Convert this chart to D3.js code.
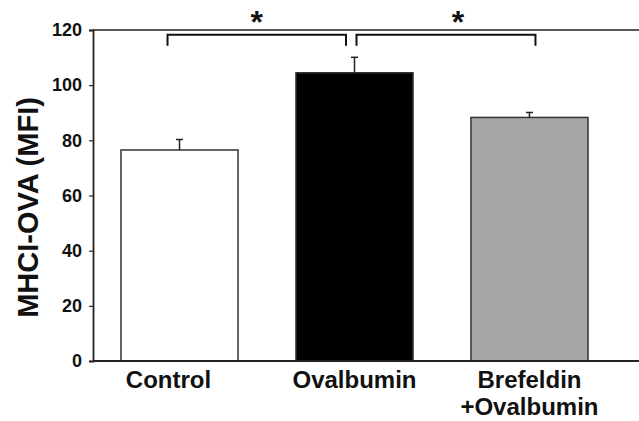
<!DOCTYPE html>
<html>
<head>
<meta charset="utf-8">
<script src="https://cdn.jsdelivr.net/npm/d3@7"></script>
<style>
  body { margin: 0; background: #fff; }
  svg { display: block; font-family: "Liberation Sans", Arial, sans-serif; font-weight: bold; }
</style>
</head>
<body>
<svg id="chart" width="639" height="421"></svg>
<script>
// data
const categories = ["Control", "Ovalbumin", "Brefeldin\n+Ovalbumin"];
const means = [76.5, 104.5, 88.3];
const errors = [3.8, 5.6, 1.8];
const fills = ["#ffffff", "#000000", "#a6a6a6"];
const yTicks = [0, 20, 40, 60, 80, 100, 120];
// pairs compared, drawn as brackets with a star
const comparisons = [[0, 1], [1, 2]];

const svg = d3.select("#chart");
const margin = { top: 30, bottom: 60, left: 93 };
const width = 639, height = 421;

const x = d3.scaleBand()
  .domain(d3.range(categories.length))
  .range([margin.left, 616])
  .paddingInner(0.331)
  .paddingOuter(0.16);
const cx = i => x(i) + x.bandwidth() / 2;

const y = d3.scaleLinear()
  .domain([0, 120])
  .range([height - margin.bottom, margin.top]);

// top frame line runs to the right edge
svg.append("line")
  .attr("x1", margin.left).attr("x2", width)
  .attr("y1", y(120)).attr("y2", y(120))
  .attr("stroke", "#222").attr("stroke-width", 1.5);

// bars
svg.append("g").selectAll("rect")
  .data(means)
  .join("rect")
  .attr("x", (d, i) => x(i))
  .attr("y", d => y(d))
  .attr("width", x.bandwidth())
  .attr("height", d => y(0) - y(d))
  .attr("fill", (d, i) => fills[i])
  .attr("stroke", "#333")
  .attr("stroke-width", 1.5);

// error bars (upper only)
const eb = svg.append("g").attr("stroke", "#222").attr("stroke-width", 1.5);
means.forEach((m, i) => {
  eb.append("line").attr("x1", cx(i)).attr("x2", cx(i)).attr("y1", y(m)).attr("y2", y(m + errors[i]));
  eb.append("line").attr("x1", cx(i) - 3.5).attr("x2", cx(i) + 3.5)
    .attr("y1", y(m + errors[i])).attr("y2", y(m + errors[i]));
});

// bottom baseline
svg.append("line")
  .attr("x1", margin.left).attr("x2", width)
  .attr("y1", y(0)).attr("y2", y(0))
  .attr("stroke", "#222").attr("stroke-width", 1.8);

// y axis
const yAxis = svg.append("g")
  .attr("transform", `translate(${margin.left},0)`)
  .call(d3.axisLeft(y).tickValues(yTicks).tickSize(4).tickPadding(7));
yAxis.select(".domain").attr("stroke", "#222").attr("stroke-width", 1.8);
yAxis.selectAll(".tick line").attr("stroke", "#222").attr("stroke-width", 1.2);
yAxis.selectAll(".tick text")
  .attr("font-size", 18).attr("font-weight", "bold")
  .attr("font-family", "Liberation Sans, Arial, sans-serif")
  .attr("fill", "#111");

// y title
svg.append("text")
  .attr("transform", `translate(38,${(margin.top + y(0)) / 2 + 12}) rotate(-90)`)
  .attr("text-anchor", "middle")
  .attr("font-size", 29)
  .attr("fill", "#111")
  .text("MHCI-OVA (MFI)");

// category labels
const xl = svg.append("g");
categories.forEach((c, i) => {
  const lx = cx(i) + (i === 0 ? -11 : 0);
  const t = xl.append("text")
    .attr("x", lx)
    .attr("y", y(0) + 27)
    .attr("text-anchor", "middle")
    .attr("font-size", 24)
    .attr("fill", "#111");
  c.split("\n").forEach((line, j) => {
    t.append("tspan").attr("x", lx).attr("dy", j === 0 ? 0 : 27).text(line);
  });
});

// significance brackets
const bracketY = 34.7, legY = 45.7;
const legOffsets = [[-12, -8.5], [2, 6]];
const starShift = [0, 12];
const br = svg.append("g").attr("fill", "none").attr("stroke", "#111").attr("stroke-width", 2);
comparisons.forEach(([a, b], k) => {
  const x1 = cx(a) + legOffsets[k][0];
  const x2 = cx(b) + legOffsets[k][1];
  br.append("path").attr("d", `M${x1},${legY}V${bracketY}H${x2}V${legY}`);
  svg.append("text")
    .attr("x", (x1 + x2) / 2 + starShift[k])
    .attr("y", 33)
    .attr("text-anchor", "middle")
    .attr("font-size", 32)
    .attr("fill", "#111")
    .text("*");
});
</script>
</body>
</html>
